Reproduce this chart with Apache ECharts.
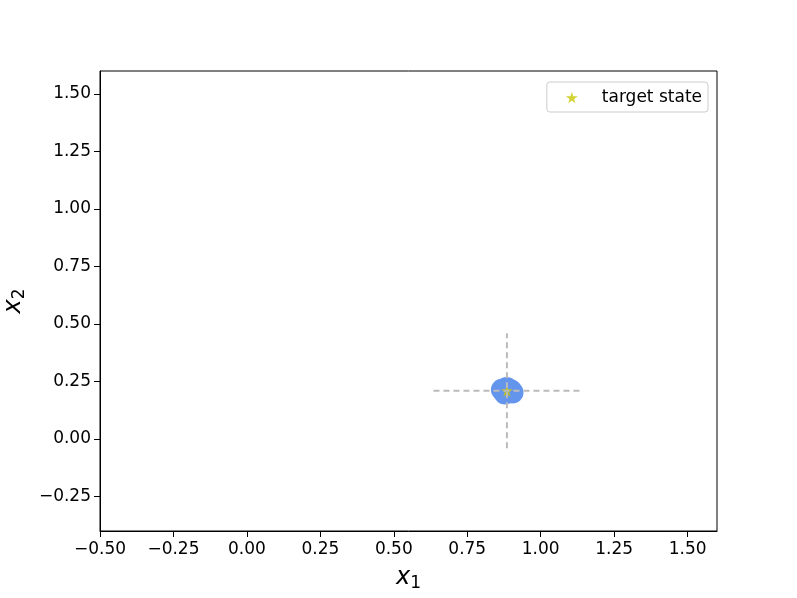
<!DOCTYPE html>
<html>
<head>
<meta charset="utf-8">
<script src="https://cdn.jsdelivr.net/npm/echarts@6/dist/echarts.min.js"></script>
<style>
  html, body { margin: 0; padding: 0; background: #fff; }
  #chart { width: 797px; height: 598px; }
</style>
</head>
<body>
<div id="chart"></div>
<script>
// tick labels of both axes
const xTicks = [-0.5, -0.25, 0, 0.25, 0.5, 0.75, 1.0, 1.25, 1.5];
const yTicks = [-0.25, 0, 0.25, 0.5, 0.75, 1.0, 1.25, 1.5];

// final states (blue cluster) and the target
const finalStates = [[0.868, 0.214], [0.886, 0.205], [0.878, 0.198], [0.898, 0.212], [0.884, 0.222], [0.904, 0.202]];
const targetState = [[0.885, 0.21]];

// dashed cross around the target
const crossH = [[0.635, 0.21], [1.135, 0.21]];
const crossV = [[0.885, -0.04], [0.885, 0.46]];

const STAR = 'path://M50,0 L61,35 L98,35 L68,57 L79,91 L50,70 L21,91 L32,57 L2,35 L39,35 Z';
const fmt = v => v.toFixed(2).replace('-', '\u2212');

const chart = echarts.init(document.getElementById('chart'));
chart.setOption({
  animation: false,
  textStyle: { fontFamily: 'DejaVu Sans' },
  grid: { left: 100, right: 80, top: 71, bottom: 67, show: true, borderColor: '#000', borderWidth: 1, outerBoundsMode: 'none', containLabel: false },
  legend: {
    data: ['target state'],
    right: 89, top: 82,
    orient: 'vertical',
    borderColor: '#ccc', borderWidth: 1, borderRadius: 3,
    padding: [7, 6, 6, 19],
    itemWidth: 12, itemHeight: 12, itemGap: 18,
    textStyle: { fontSize: 17, color: '#000', fontFamily: 'DejaVu Sans', padding: [0, 0, 0, 19] }
  },
  xAxis: {
    type: 'value', min: -0.5, max: 1.6,
    name: '{a|x}{b|1}', nameLocation: 'middle', nameGap: 32,
    nameTextStyle: { rich: { a: { fontSize: 24, fontStyle: 'italic', color: '#000', fontFamily: 'DejaVu Sans' }, b: { fontSize: 17, color: '#000', verticalAlign: 'bottom', padding: [12, 0, 0, 0], fontFamily: 'DejaVu Sans' } } },
    axisLine: { show: true, onZero: false, lineStyle: { color: '#000' } },
    axisTick: { show: true, inside: false, length: 6, lineStyle: { color: '#000' }, customValues: xTicks },
    axisLabel: { color: '#000', fontSize: 17, margin: 10, formatter: fmt, customValues: xTicks },
    splitLine: { show: false }
  },
  yAxis: {
    type: 'value', min: -0.4, max: 1.6,
    name: '{a|x}{b|2}', nameLocation: 'middle', nameGap: 72, nameRotate: 90,
    nameTextStyle: { rich: { a: { fontSize: 24, fontStyle: 'italic', color: '#000', fontFamily: 'DejaVu Sans' }, b: { fontSize: 17, color: '#000', padding: [12, 0, 0, 0], fontFamily: 'DejaVu Sans' } } },
    axisLine: { show: true, onZero: false, lineStyle: { color: '#000' } },
    axisTick: { show: true, inside: false, length: 6, lineStyle: { color: '#000' }, customValues: yTicks },
    axisLabel: { color: '#000', fontSize: 17, margin: 9, formatter: fmt, customValues: yTicks },
    splitLine: { show: false }
  },
  series: [
    {
      name: 'final', type: 'scatter', data: finalStates, symbolSize: 22,
      itemStyle: { color: '#6495ed', opacity: 1 }, z: 2
    },
    {
      name: 'target state', type: 'scatter', data: targetState, symbol: STAR, symbolSize: 12,
      itemStyle: { color: '#c8c800' }, z: 3
    },
    {
      name: 'crossH', type: 'line', data: crossH, symbol: 'none',
      lineStyle: { color: '#bbbbbb', width: 2, type: [6, 4] }, z: 4
    },
    {
      name: 'crossV', type: 'line', data: crossV, symbol: 'none',
      lineStyle: { color: '#bbbbbb', width: 2, type: [6, 4] }, z: 4
    }
  ]
});
</script>
</body>
</html>
